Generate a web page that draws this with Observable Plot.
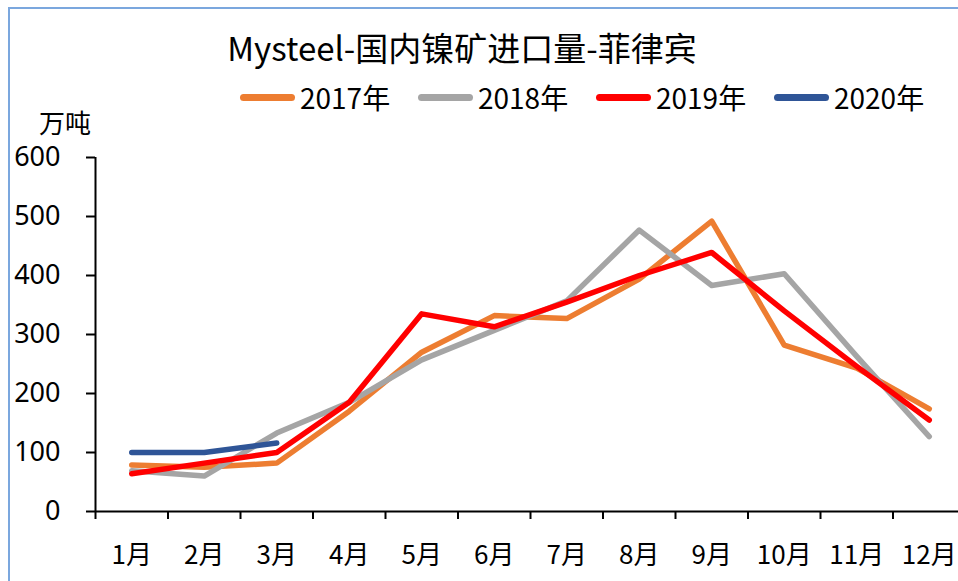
<!DOCTYPE html>
<html><head><meta charset="utf-8">
<script src="https://cdn.jsdelivr.net/npm/d3@7"></script>
<script src="https://cdn.jsdelivr.net/npm/@observablehq/plot@0.6"></script>
<style>
html,body{margin:0;padding:0;overflow:hidden;background:#fff;}
body{font-family:"Noto Sans CJK SC","Noto Sans",sans-serif;color:#000;}
#wrap{position:relative;width:958px;height:581px;overflow:hidden;}
#frame{position:absolute;left:8px;top:7px;width:1100px;height:1100px;border:2px solid #7BA7DE;box-sizing:border-box;}
#title{position:absolute;left:0;width:924px;top:27px;text-align:center;font-size:33px;line-height:40px;white-space:nowrap;}
#legend{position:absolute;top:80px;left:240px;display:flex;white-space:nowrap;}
.item{display:flex;align-items:center;width:178px;font-size:28px;line-height:34px;}
.sw{width:55px;height:7px;border-radius:4px;margin-right:5px;flex:none;}
#unit{position:absolute;left:39px;top:108px;font-size:26px;line-height:28px;}
#chart{position:absolute;left:0;top:100px;width:965px;}
#chart svg{max-width:none !important;}
</style>
</head><body>
<div id="wrap">
  <div id="frame"></div>
  <div id="title"></div>
  <div id="legend"></div>
  <div id="unit"></div>
  <div id="chart"></div>
</div>
<script>
const titleText = "Mysteel-国内镍矿进口量-菲律宾";
const unitText = "万吨";
const months = ["1月","2月","3月","4月","5月","6月","7月","8月","9月","10月","11月","12月"];
const years = ["2017年","2018年","2019年","2020年"];
const v2017 = [79, 75, 82, 170, 270, 332, 327, 394, 492, 282, 243, 174];
const v2018 = [69, 60, 133, 185, 257, 307, 357, 477, 383, 403, 263, 127];
const v2019 = [64, 82, 100, 185, 335, 313, 355, 400, 439, 340, 246, 155];
const v2020 = [100, 100, 116];
const yTicks = [0, 100, 200, 300, 400, 500, 600];

const seriesValues = [v2017, v2018, v2019, v2020];
const seriesColors = ["#ED7D31", "#A5A5A5", "#FF0000", "#2F5597"];

document.getElementById("title").textContent = titleText;
document.getElementById("unit").textContent = unitText;
const legend = document.getElementById("legend");
years.forEach((y, i) => {
  const it = document.createElement("div");
  it.className = "item";
  const sw = document.createElement("span");
  sw.className = "sw";
  sw.style.background = seriesColors[i];
  const tx = document.createElement("span");
  tx.textContent = y;
  it.appendChild(sw); it.appendChild(tx);
  legend.appendChild(it);
});

const rows = [];
seriesValues.forEach((vals, s) => {
  vals.forEach((v, i) => rows.push({series: years[s], m: i + 1, v}));
});
const bounds = d3.range(0, months.length + 1).map(d => d + 0.5);
const centers = months.map((_, i) => i + 1);

const chart = Plot.plot({
  width: 965,
  height: 481,
  marginLeft: 95,
  marginRight: 0,
  marginTop: 57,
  marginBottom: 70,
  style: {fontFamily: '"Noto Sans CJK SC","Noto Sans",sans-serif', color: "#000", background: "transparent", overflow: "visible", maxWidth: "none"},
  x: {type: "linear", domain: [0.5, months.length + 0.5], axis: null},
  y: {domain: [0, 600], axis: null},
  marks: [
    Plot.axisY(yTicks, {tickSize: 9, tickPadding: 26, fontSize: 27, fontFamily: '"Noto Sans",sans-serif', strokeWidth: 2, color: "#000", label: null, tickFormat: d => String(d)}),
    Plot.axisX(bounds, {tickSize: 8, tickFormat: () => "", strokeWidth: 2, color: "#000", label: null}),
    Plot.axisX(centers, {tickSize: 0, tickPadding: 34, fontSize: 26, color: "#000", label: null, tickFormat: d => months[d - 1]}),
    Plot.ruleX([0.5], {y1: 0, y2: 600, stroke: "#000", strokeWidth: 2}),
    Plot.ruleY([0], {stroke: "#000", strokeWidth: 2}),
    ...years.map((y, s) => Plot.lineY(rows.filter(r => r.series === y), {
      x: "m", y: "v", stroke: seriesColors[s], strokeWidth: 5.5,
      strokeLinecap: "round", strokeLinejoin: "round"
    }))
  ]
});
chart.style.maxWidth = "none";
document.getElementById("chart").appendChild(chart);
</script>
</body></html>
